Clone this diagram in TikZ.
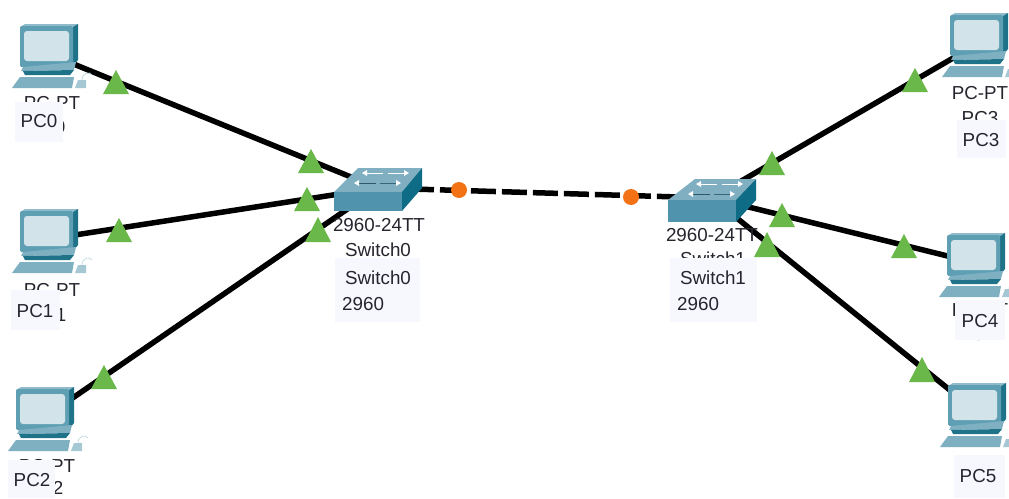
\documentclass[tikz,border=0pt]{standalone}
\usepackage{fontspec}
\setmainfont{Liberation Sans}
\definecolor{monfront}{HTML}{5E9FB4}
\definecolor{monside}{HTML}{1F7389}
\definecolor{montop}{HTML}{8FBBCB}
\definecolor{screen}{HTML}{D2E3EA}
\definecolor{keyb}{HTML}{7FB0C2}
\definecolor{swtop}{HTML}{7FAFC0}
\definecolor{swfront}{HTML}{4F93AD}
\definecolor{swside}{HTML}{0F6C86}
\definecolor{lampgreen}{HTML}{6BB84A}
\definecolor{lamporange}{HTML}{F47216}
\definecolor{labelbg}{HTML}{F7F8FD}
\definecolor{labeltext}{HTML}{25252E}
\tikzset{
  iconbox/.style={inner sep=0pt,minimum width=58pt,minimum height=60pt},
  swbox/.style={inner sep=0pt,minimum width=70pt,minimum height=30pt},
  cable/.style={draw=black,line width=5.5pt},
  trunk/.style={cable,dash pattern=on 25pt off 6pt},
  lamp/.style={circle,fill=lamporange,inner sep=0pt,minimum size=16pt},
  tag/.style={text=labeltext,inner sep=0pt,font=\fontsize{18.8}{22}\selectfont},
  patch/.style={fill=labelbg,draw=none},
  pc/.pic={
    \fill[montop] (0,3) -- (5,0) -- (58,0) -- (53,3) -- cycle;
    \fill[monside] (53,3) -- (58,0) -- (58,36) -- (53,42) -- cycle;
    \fill[monfront,rounded corners=1.5pt] (0,2) rectangle (53,43);
    \fill[screen,rounded corners=3pt] (4,7) rectangle (49,37);
    \fill[keyb] (3,43) -- (56,38) -- (54,46) -- (1,47) -- cycle;
    \fill[monside] (3,47) -- (54,46) -- (50,51) -- (5,51) -- cycle;
    \fill[keyb] (0,53) -- (54,53) -- (52,64) -- (-8,64) -- cycle;
    \fill[keyb!70!white] (55,64) -- (58,56) -- (66,56) -- (66,64) -- cycle;
    \draw[keyb!45!white,line width=.8pt] (62,56) .. controls (62,49) and (70,47) .. (72,51);
  },
}
\newcommand{\flag}[3]{\fill[lampgreen] (#1,#2) -- (#1-13,#3) -- (#1+13,#3) -- cycle;}
\newcommand{\swarrows}[2]{%
  \begin{scope}[shift={(#1,#2)},white,line width=1pt]
    \draw (-7,0) -- (13,0); \fill (-8,0) -- (-3,-3) -- (-3,3) -- cycle;
    \draw (18,0) -- (37,0); \fill (39,0) -- (34,-3) -- (34,3) -- cycle;
    \draw[swfront!60!black] (-15,10) -- (6,10); \fill (-16,10) -- (-11,7) -- (-11,13) -- cycle;
    \draw[swfront!70!black] (10,10) -- (29,10); \fill (31,10) -- (26,7) -- (26,13) -- cycle;
  \end{scope}}
\begin{document}
\begin{tikzpicture}[x=1pt,y=-1pt]
\useasboundingbox (0,0) rectangle (1009,498);
\fill[white] (0,0) rectangle (1009,498);

% anchor nodes for devices
\node[iconbox] (pc0) at (49,54) {};
\node[iconbox] (pc1) at (49,239) {};
\node[iconbox] (pc2) at (45,417) {};
\node[iconbox] (pc3) at (979,43) {};
\node[iconbox] (pc4) at (976,263) {};
\node[iconbox] (pc5) at (977,412) {};
\node[swbox] (sw0) at (378,188) {};
\node[swbox] (sw1) at (712,198) {};

% connectors
\draw[cable] (pc0.center) -- (sw0.center);
\draw[cable] (pc1.center) -- (sw0.center);
\draw[cable] (pc2.center) -- (sw0.center);
\draw[trunk] (sw0.center) -- (sw1.center);
\draw[cable] (pc3.center) -- (sw1.center);
\draw[cable] (pc4.center) -- (sw1.center);
\draw[cable] (pc5.center) -- (sw1.center);

% PCs
\pic at (20,24) {pc};
\pic at (20,209) {pc};
\pic at (16,387) {pc};
\pic at (950,13) {pc};
\pic at (947,233) {pc};
\pic at (948,383) {pc};

% switches
\fill[swtop] (334,192) -- (358,168) -- (422,168) -- (402,192) -- cycle;
\fill[swfront] (334,192) rectangle (402,211);
\fill[swside] (402,192) -- (422,168) -- (422,188) -- (402,211) -- cycle;
\swarrows{370}{173}
\fill[swtop] (668,200) -- (695,179) -- (756,179) -- (736,200) -- cycle;
\fill[swfront] (668,200) rectangle (736,222);
\fill[swside] (736,200) -- (756,179) -- (756,200) -- (736,222) -- cycle;
\swarrows{704}{184}

% labels underneath
\node[tag] (t0a) at (52,103) {PC-PT};
\node[tag] (t0b) at (47,127) {PC0};
\node[tag] (t1a) at (52,290) {PC-PT};
\node[tag] (t1b) at (48,315) {PC1};
\node[tag] (t2a) at (47,466) {PC-PT};
\node[tag] (t2b) at (45,488) {PC2};
\node[tag] (t3a) at (980,93) {PC-PT};
\node[tag] (t3b) at (980,118) {PC3};
\node[tag] (t4a) at (980,310) {PC-PT};
\node[tag] (t4b) at (977,334) {PC4};
\node[tag] (s0a) at (379,225) {2960-24TT};
\node[tag] (s0b) at (378,250) {Switch0};
\node[tag] (s1a) at (712,235) {2960-24TT};
\node[tag] (s1b) at (713,259) {Switch1};

% label patches
\fill[patch] (15,102) rectangle (63,142);
\fill[patch] (11,290) rectangle (60,330);
\fill[patch] (8,460) rectangle (55,498);
\fill[patch] (957,120) rectangle (1006,158);
\fill[patch] (955,300) rectangle (1005,340);
\fill[patch] (954,455) rectangle (1005,498);
\fill[patch] (335,258) rectangle (420,322);
\fill[patch] (670,258) rectangle (757,322);

\node[tag] (l0) at (39,121) {PC0};
\node[tag] (l1) at (35,311) {PC1};
\node[tag] (l2) at (32,480) {PC2};
\node[tag] (l3) at (981,140) {PC3};
\node[tag] (l4) at (980,321) {PC4};
\node[tag] (l5) at (978,476) {PC5};
\node[tag] (l6) at (378,278) {Switch0};
\node[tag,anchor=west] (l7) at (342,304) {2960};
\node[tag] (l8) at (713,278) {Switch1};
\node[tag,anchor=west] (l9) at (677,304) {2960};

% link lights
\flag{116}{70}{94}
\flag{311}{149}{173}
\flag{119}{218}{242}
\flag{307}{187}{211}
\flag{104}{365}{389}
\flag{318}{217}{242}
\flag{915}{68}{92}
\flag{772}{151}{175}
\flag{782}{203}{227}
\flag{904}{234}{258}
\flag{767}{232}{257}
\flag{922}{357}{382}
\node[lamp] (o0) at (459,190) {};
\node[lamp] (o1) at (631,197) {};
\end{tikzpicture}
\end{document}
